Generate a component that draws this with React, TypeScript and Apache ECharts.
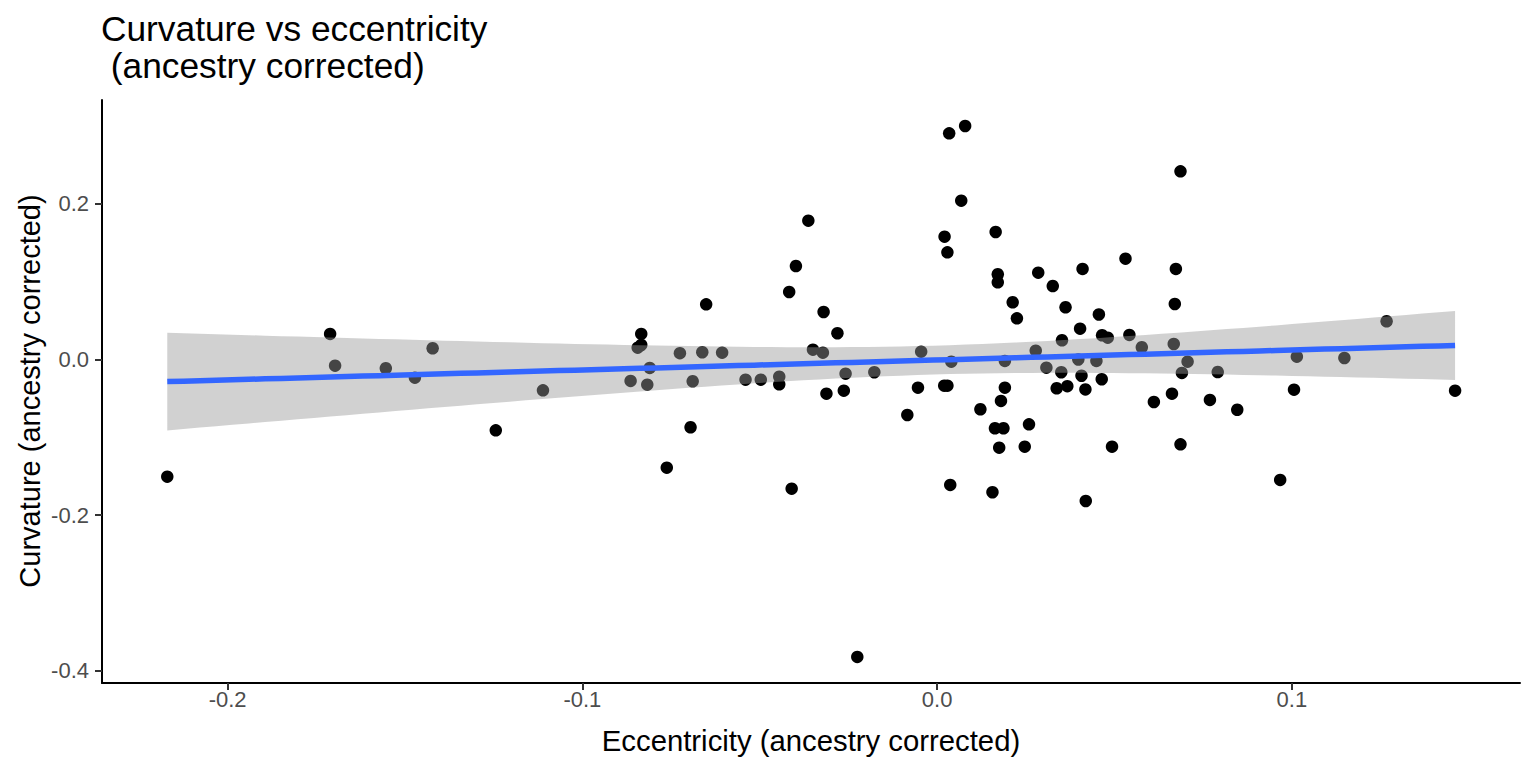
import React, { useEffect, useRef } from "react";
import * as echarts from "echarts";

const eccentricity = [
  -0.2170, -0.1711, -0.1697, -0.1554, -0.1472, -0.1422, -0.1244, -0.1111, -0.0834, -0.0834,
  -0.0844, -0.0810, -0.0864, -0.0817, -0.0762, -0.0725, -0.0363, -0.0398, -0.0417, -0.0651,
  -0.0320, -0.0281, -0.0662, -0.0606, -0.0350, -0.0322, -0.0689, -0.0540, -0.0497, -0.0445,
  -0.0445, -0.0258, -0.0177, -0.0312, -0.0263, -0.0045, -0.0054, -0.0084, -0.0695, -0.0410,
  0.0079, 0.0034, 0.0068, 0.0021, 0.0029, 0.0165, 0.0171, 0.0171, 0.0285, 0.0326,
  0.0410, 0.0213, 0.0225, 0.0362, 0.0456, 0.0403, 0.0352, 0.0465, 0.0481, 0.0040,
  0.0191, 0.0278, 0.0308, 0.0350, 0.0398, 0.0449, 0.0407, 0.0464, 0.0020, 0.0029,
  0.0191, 0.0180, 0.0337, 0.0367, 0.0418, 0.0122, 0.0163, 0.0187, 0.0259, 0.0175,
  0.0247, 0.0037, 0.0156, 0.0419, 0.0686, 0.0531, 0.0673, 0.0670, 0.0542, 0.0577,
  0.0667, 0.0706, 0.0690, 0.0791, 0.0611, 0.0662, 0.0769, 0.0846, 0.0493, 0.0686,
  0.1267, 0.1014, 0.1148, 0.1006, 0.1460, 0.0967, -0.0225,
];

const curvature = [
  -0.1506, 0.0328, -0.0080, -0.0113, -0.0234, 0.0144, -0.0910, -0.0396, 0.0328, 0.0186,
  0.0152, -0.0109, -0.0276, -0.0324, -0.1390, 0.0081, 0.1783, 0.1201, 0.0867, 0.0709,
  0.0610, 0.0337, 0.0093, 0.0087, 0.0126, 0.0087, -0.0280, -0.0260, -0.0260, -0.0221,
  -0.0319, -0.0182, -0.0164, -0.0439, -0.0401, 0.0100, -0.0362, -0.0713, -0.0871, -0.1660,
  0.3000, 0.2906, 0.2040, 0.1578, 0.1377, 0.1638, 0.1095, 0.0992, 0.1115, 0.0944,
  0.1163, 0.0735, 0.0529, 0.0671, 0.0578, 0.0396, 0.0247, 0.0311, 0.0280, -0.0028,
  -0.0019, 0.0113, -0.0105, -0.0164, 0.0000, -0.0019, -0.0209, -0.0254, -0.0337, -0.0337,
  -0.0362, -0.0533, -0.0370, -0.0343, -0.0385, -0.0640, -0.0884, -0.0884, -0.0833, -0.1133,
  -0.1120, -0.1612, -0.1706, -0.1818, 0.2418, 0.1295, 0.1163, 0.0713, 0.0315, 0.0157,
  0.0199, -0.0028, -0.0173, -0.0161, -0.0546, -0.0439, -0.0520, -0.0646, -0.1120, -0.1090,
  0.0491, 0.0036, 0.0019, -0.0388, -0.0401, -0.1548, -0.3822,
];

const xTicks = [-0.2, -0.1, 0.0, 0.1];
const yTicks = [-0.4, -0.2, 0.0, 0.2];

const titleText = "Curvature vs eccentricity\n (ancestry corrected)";
const xTitle = "Eccentricity (ancestry corrected)";
const yTitle = "Curvature (ancestry corrected)";

const T_975 = 1.9828; // qt(0.975, n - 2) for n = 107

function fitLm(xs: number[], ys: number[]) {
  const n = xs.length;
  const mx = xs.reduce((a, b) => a + b, 0) / n;
  const my = ys.reduce((a, b) => a + b, 0) / n;
  let sxx = 0;
  let sxy = 0;
  for (let i = 0; i < n; i++) {
    sxx += (xs[i] - mx) ** 2;
    sxy += (xs[i] - mx) * (ys[i] - my);
  }
  const b = sxy / sxx;
  const a = my - b * mx;
  let sse = 0;
  for (let i = 0; i < n; i++) sse += (ys[i] - a - b * xs[i]) ** 2;
  const s = Math.sqrt(sse / (n - 2));
  const xmin = Math.min(...xs);
  const xmax = Math.max(...xs);
  const pts: number[][] = [];
  const m = 80;
  for (let k = 0; k < m; k++) {
    const x0 = xmin + ((xmax - xmin) * k) / (m - 1);
    const yh = a + b * x0;
    const se = s * Math.sqrt(1 / n + (x0 - mx) ** 2 / sxx);
    pts.push([x0, yh, yh - T_975 * se, yh + T_975 * se]);
  }
  return pts;
}

const FONT = "'Liberation Sans', Arial, Helvetica, sans-serif";

export default function App() {
  const ref = useRef<HTMLDivElement>(null);
  useEffect(() => {
    if (!ref.current) return;
    const chart = echarts.init(ref.current, undefined, { renderer: "svg" });
    const fit = fitLm(eccentricity, curvature);
    const points = eccentricity.map((x, i) => [x, curvature[i]]);

    chart.setOption({
      animation: false,
      backgroundColor: "#ffffff",
      textStyle: { fontFamily: FONT },
      grid: { left: 102, right: 16, top: 100, bottom: 85, containLabel: false },
      xAxis: {
        type: "value",
        min: -0.2354,
        max: 0.1643,
        splitLine: { show: false },
        axisLine: { show: true, onZero: false, lineStyle: { color: "#000000", width: 2 } },
        axisTick: { show: true, length: 7, customValues: xTicks, lineStyle: { color: "#333333", width: 2 } },
        axisLabel: {
          show: true,
          customValues: xTicks,
          formatter: (v: number) => v.toFixed(1),
          color: "#4D4D4D",
          fontSize: 22,
          fontFamily: FONT,
          margin: 5,
        },
      },
      yAxis: {
        type: "value",
        min: -0.4157,
        max: 0.3334,
        splitLine: { show: false },
        axisLine: { show: true, onZero: false, lineStyle: { color: "#000000", width: 2 } },
        axisTick: { show: true, length: 7, customValues: yTicks, lineStyle: { color: "#333333", width: 2 } },
        axisLabel: {
          show: true,
          customValues: yTicks,
          formatter: (v: number) => v.toFixed(1),
          color: "#4D4D4D",
          fontSize: 22,
          fontFamily: FONT,
          margin: 13,
        },
      },
      graphic: [
        {
          type: "text",
          left: 101,
          top: 10,
          style: {
            text: titleText,
            fontSize: 35.3,
            lineHeight: 37,
            fontFamily: FONT,
            fill: "#000000",
          },
        },
        {
          type: "text",
          x: 811,
          y: 740,
          style: {
            text: xTitle,
            fontSize: 29.3,
            fontFamily: FONT,
            fill: "#000000",
            textAlign: "center",
            textVerticalAlign: "middle",
          },
        },
        {
          type: "text",
          x: 30,
          y: 391,
          rotation: Math.PI / 2,
          style: {
            text: yTitle,
            fontSize: 29,
            fontFamily: FONT,
            fill: "#000000",
            textAlign: "center",
            textVerticalAlign: "middle",
          },
        },
      ],
      series: [
        {
          type: "scatter",
          data: points,
          symbol: "circle",
          symbolSize: 12.5,
          itemStyle: { color: "#000000", opacity: 1 },
          z: 2,
          silent: true,
        },
        {
          type: "custom",
          data: [[fit[0][0], fit[0][1]]],
          z: 3,
          silent: true,
          renderItem: (params: any, api: any) => {
            const upper = fit.map((p) => api.coord([p[0], p[3]]));
            const lower = fit.map((p) => api.coord([p[0], p[2]])).reverse();
            return {
              type: "polygon",
              shape: { points: upper.concat(lower) },
              style: { fill: "rgba(153,153,153,0.45)" },
            };
          },
        },
        {
          type: "line",
          data: fit.map((p) => [p[0], p[1]]),
          showSymbol: false,
          symbol: "none",
          lineStyle: { color: "#3366FF", width: 5.5 },
          z: 4,
          silent: true,
        },
      ],
    });
    return () => chart.dispose();
  }, []);
  return (
    <div
      ref={ref}
      style={{ position: "fixed", left: 0, top: 0, width: 1536, height: 768 }}
    />
  );
}
